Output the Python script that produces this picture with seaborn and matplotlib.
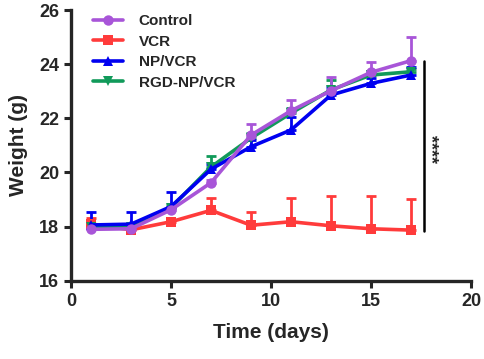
import numpy as np
import pandas as pd
import seaborn as sns
import matplotlib.pyplot as plt

days = [1, 3, 5, 7, 9, 11, 13, 15, 17]
groups = ['Control', 'VCR', 'NP/VCR', 'RGD-NP/VCR']

control = [17.9, 17.92, 18.62, 19.62, 21.38, 22.28, 23.02, 23.7, 24.13]
control_sd = [0.05, 0.1, 0.1, 0.1, 0.42, 0.4, 0.52, 0.37, 0.87]
vcr = [18.1, 17.88, 18.18, 18.6, 18.05, 18.18, 18.03, 17.92, 17.87]
vcr_sd = [0.2, 0.05, 0.05, 0.47, 0.5, 0.86, 1.1, 1.2, 1.15]
np_vcr = [18.06, 18.09, 18.74, 20.12, 20.95, 21.57, 22.86, 23.29, 23.6]
np_vcr_sd = [0.48, 0.46, 0.55, 0.2, 0.25, 0.49, 0.3, 0.2, 0.3]
rgd = [18.0, 18.0, 18.7, 20.2, 21.27, 22.19, 23.05, 23.6, 23.72]
rgd_sd = [0.1, 0.1, 0.1, 0.4, 0.2, 0.2, 0.36, 0.15, 0.1]

colors = {'Control': '#A855D8', 'VCR': '#FF3B3B',
          'NP/VCR': '#0000F0', 'RGD-NP/VCR': '#119A5A'}
markers = {'Control': 'o', 'VCR': 's', 'NP/VCR': '^', 'RGD-NP/VCR': 'v'}

means = {'Control': control, 'VCR': vcr, 'NP/VCR': np_vcr, 'RGD-NP/VCR': rgd}
sds = {'Control': control_sd, 'VCR': vcr_sd, 'NP/VCR': np_vcr_sd, 'RGD-NP/VCR': rgd_sd}

df = pd.DataFrame([(d, g, m) for g in groups for d, m in zip(days, means[g])],
                  columns=['Day', 'Group', 'Weight'])

sns.set_style('ticks')
plt.rcParams['font.family'] = ['Liberation Sans', 'DejaVu Sans']
plt.rcParams['font.weight'] = 'bold'

fig = plt.figure(figsize=(4.84, 3.59), dpi=100)
ax = fig.add_axes([0.1467, 0.218, 0.8264, 0.754])

# error bars first (one-sided, upward)
draw_order = ['VCR', 'RGD-NP/VCR', 'NP/VCR', 'Control']
for g in draw_order:
    ax.errorbar(days, means[g], yerr=[np.zeros(len(days)), sds[g]], fmt='none',
                ecolor=colors[g], elinewidth=2, capsize=3.5, capthick=2, zorder=2)

sns.lineplot(data=df, x='Day', y='Weight', hue='Group', style='Group',
             hue_order=draw_order, style_order=draw_order,
             palette=colors, markers=markers, dashes=False,
             linewidth=2.6, markersize=7.5, markeredgewidth=0, ax=ax, zorder=3)

# legend in original order
handles, labels = ax.get_legend_handles_labels()
hmap = dict(zip(labels, handles))
leg = ax.legend([hmap[g] for g in groups], groups, loc='upper left',
                bbox_to_anchor=(0.02, 1.035), frameon=False,
                prop={'weight': 'bold', 'size': 11}, handlelength=2.0,
                labelspacing=0.42, handletextpad=1.0)

# significance bar
ax.plot([17.65, 17.65], [17.85, 24.1], color='black', lw=1.8)
ax.text(17.95, 20.85, '****', rotation=-90, ha='center', va='center',
        fontsize=13, fontweight='bold')

ax.set_xlim(0, 20)
ax.set_ylim(16, 26)
ax.set_xticks([0, 5, 10, 15, 20])
ax.set_yticks([16, 18, 20, 22, 24, 26])
ax.set_xlabel('Time (days)', fontsize=15, fontweight='bold', labelpad=10)
ax.set_ylabel('Weight (g)', fontsize=15, fontweight='bold', labelpad=8)
ax.tick_params(labelsize=13, width=2.2, length=5)
for lab in ax.get_xticklabels() + ax.get_yticklabels():
    lab.set_fontweight('bold')
for s in ['left', 'bottom']:
    ax.spines[s].set_linewidth(2.4)
sns.despine(ax=ax)

fig.savefig('out.png', dpi=100)
